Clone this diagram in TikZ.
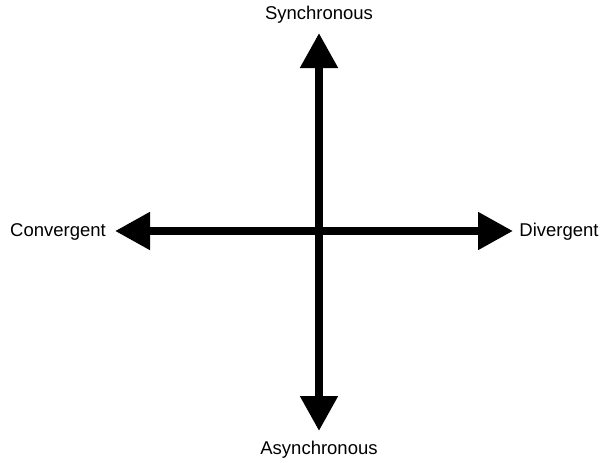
\documentclass[tikz,border=0pt]{standalone}
\usepackage{fontspec}
\setmainfont{Liberation Sans}
\usetikzlibrary{arrows.meta}
\begin{document}
\begin{tikzpicture}[x=1pt,y=-1pt,
  axis/.style={line width=8pt,-{Triangle[width=36pt,length=35pt]}},
  lab/.style={font=\fontsize{18.5}{21}\selectfont,inner sep=0pt}]
\useasboundingbox (0,0) rectangle (606,463);
\coordinate (c) at (319,231);
\coordinate (top) at (319,33);
\coordinate (bot) at (319,431);
\coordinate (lft) at (115,231);
\coordinate (rgt) at (513,231);
\draw[axis] (c) -- (top);
\draw[axis] (c) -- (bot);
\draw[axis] (c) -- (lft);
\draw[axis] (c) -- (rgt);
\node[lab] (sync) at (319,15) {Synchronous};
\node[lab] (async) at (319,450) {Asynchronous};
\node[lab] (conv) at (58,232) {Convergent};
\node[lab] (div) at (559,232) {Divergent};
\end{tikzpicture}
\end{document}
